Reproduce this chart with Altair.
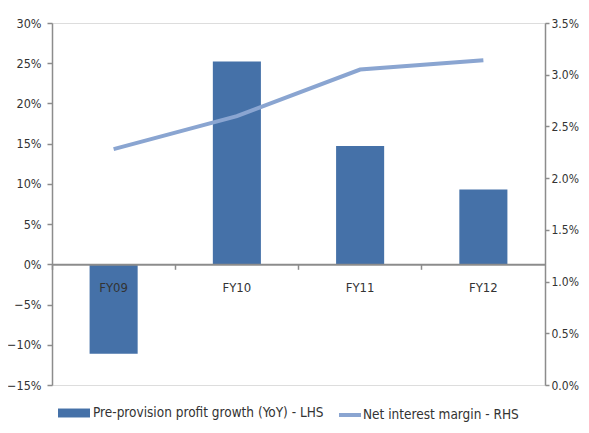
import altair as alt
import pandas as pd

categories = ["FY09", "FY10", "FY11", "FY12"]
profit_growth = [-0.111, 0.252, 0.147, 0.093]
net_interest_margin = [0.0228, 0.0260, 0.0305, 0.0314]
bar_name = "Pre-provision profit growth (YoY) - LHS"
line_name = "Net interest margin - RHS"

df = pd.DataFrame({
    "cat": categories,
    "growth": profit_growth,
    "nim": net_interest_margin,
    "bs": [bar_name] * 4,
    "ls": [line_name] * 4,
})

FONT = "DejaVu Sans Condensed, Liberation Sans Narrow, Arial Narrow, sans-serif"
GRAY = "#8c8c8c"
TXT = "#333333"

xscale = alt.Scale(domain=categories, paddingInner=0, paddingOuter=0)

bars = alt.Chart(df).mark_bar(width=alt.RelativeBandSize(0.39), color="#4571a8").encode(
    x=alt.X("cat:N", scale=xscale, sort=categories, title=None,
            axis=alt.Axis(orient="bottom", offset=-120.7, ticks=False, domain=False,
                          labelAngle=0, labelPadding=17, labelFontSize=13,
                          labelColor=TXT, labelFont=FONT, zindex=2)),
    y=alt.Y("growth:Q", title=None,
            scale=alt.Scale(domain=[-0.15, 0.30], nice=False, zero=False),
            axis=alt.Axis(orient="left", format=".0%", values=[-0.15, -0.10, -0.05, 0, 0.05, 0.10, 0.15, 0.20, 0.25, 0.30],
                          grid=False, domainColor=GRAY, domainWidth=1.5, tickColor=GRAY,
                          tickSize=5, tickWidth=1.5, labelPadding=6, labelFontSize=12.5,
                          labelColor=TXT, labelFont=FONT)),
    fill=alt.Fill("bs:N", scale=alt.Scale(domain=[bar_name], range=["#4571a8"]),
                  legend=alt.Legend(title=None, orient="none", legendX=6, legendY=374,
                                    symbolType="M-1,-0.28H1V0.28H-1Z", symbolSize=1024,
                                    symbolStrokeWidth=0, labelFontSize=13.5, labelColor=TXT,
                                    labelFont=FONT, labelLimit=400, labelOffset=3)),
)

line = alt.Chart(df).mark_line(strokeWidth=4, color="#8aa5d1").encode(
    x=alt.X("cat:N", scale=xscale, sort=categories, title=None,
            axis=alt.Axis(orient="bottom", offset=-120.7, bandPosition=0, labels=False,
                          domainColor=GRAY, domainWidth=2, tickColor=GRAY, tickSize=5,
                          tickWidth=1.5, zindex=2)),
    y=alt.Y("nim:Q", title=None,
            scale=alt.Scale(domain=[0, 0.035], nice=False, zero=False),
            axis=alt.Axis(orient="right", format=".1%", values=[0, 0.005, 0.01, 0.015, 0.02, 0.025, 0.03, 0.035],
                          grid=False, domainColor=GRAY, domainWidth=1.5, tickColor=GRAY,
                          tickSize=4, tickWidth=1.5, labelPadding=2, labelFontSize=12,
                          labelColor=TXT, labelFont=FONT)),
    stroke=alt.Stroke("ls:N", scale=alt.Scale(domain=[line_name], range=["#8aa5d1"]),
                      legend=alt.Legend(title=None, orient="none", legendX=285, legendY=379,
                                        symbolType="stroke", symbolSize=484, symbolStrokeWidth=4,
                                        labelFontSize=13.5, labelColor=TXT, labelFont=FONT,
                                        labelLimit=400, labelOffset=0)),
)

chart = alt.layer(bars, line).resolve_scale(
    y="independent", fill="independent", stroke="independent"
).resolve_axis(x="independent", y="independent").properties(
    width=493, height=362,
    autosize=alt.AutoSizeParams(type="none"),
    padding={"left": 44, "top": 15, "right": 36, "bottom": 40},
).configure_view(stroke=None).configure(background="white")

chart.save("out.html", embed_options={"renderer": "svg", "actions": False})
